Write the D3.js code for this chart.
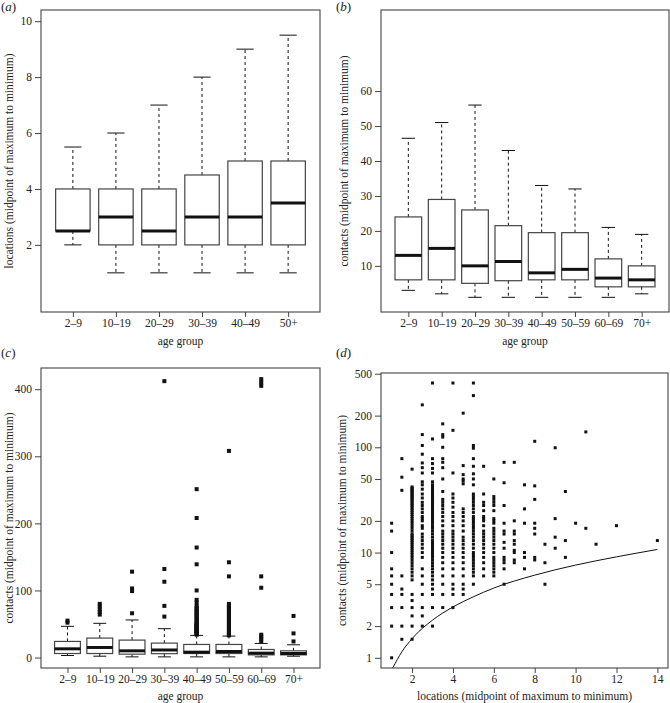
<!DOCTYPE html>
<html><head><meta charset="utf-8">
<script src="https://cdn.jsdelivr.net/npm/d3@7"></script>
<style>
body{margin:0;background:#fff;}
svg{display:block;}
svg text{font-family:"Liberation Serif","Times New Roman","DejaVu Serif",serif;}
</style></head><body>
<svg id="c" width="670" height="703"></svg>
<script>
// ---------- data ----------
const groupsA = ["2–9","10–19","20–29","30–39","40–49","50+"];
const locLow  = [2, 1, 1, 1, 1, 1];
const locQ1   = [2.5, 2, 2, 2, 2, 2];
const locMed  = [2.5, 3, 2.5, 3, 3, 3.5];
const locQ3   = [4, 4, 4, 4.5, 5, 5];
const locHigh = [5.5, 6, 7, 8, 9, 9.5];
const ticksA  = [2, 4, 6, 8, 10];

const groupsB = ["2–9","10–19","20–29","30–39","40–49","50–59","60–69","70+"];
const conLow  = [3, 2, 1, 1, 1, 1, 1, 2];
const conQ1   = [6, 6, 5, 5.75, 6, 6, 4, 4];
const conMed  = [13, 15, 10, 11.25, 8, 9, 6.5, 6];
const conQ3   = [24, 29, 26, 21.5, 19.5, 19.5, 12, 10];
const conHigh = [46.5, 51, 56, 43, 33, 32, 21, 19];
const ticksB  = [10, 20, 30, 40, 50, 60];

const conOutliers = [
  [52, 55],
  [64, 68, 72, 76, 80],
  [66, 99, 103, 128],
  [61, 77, 113, 132, 412],
  [34,35,36,37,38,39,40,41,42,43,44,45,46,47,48,49,50,52,54,56,58,60,62,64,66,68,70,72,74,77,82,86,100,139,164,208,251],
  [33,34,35,36,38,40,42,44,46,48,50,52,54,56,58,60,62,64,66,68,70,72,74,76,78,80,121,142,308],
  [24, 28, 31, 34, 104, 121, 405, 410, 415],
  [24, 36, 62]
];
const ticksC = [0, 100, 200, 300, 400];

const locX = [1, 1.5, 2, 2.5, 3, 3.5, 4, 4.5, 5, 5.5, 6, 6.5, 7, 7.5, 8, 8.5, 9, 9.5, 10, 10.5, 11, 12, 14];
const contactsAtLoc = [
  [1,2,3,4,5,6,7,10,16,19],
  [1.5,2,3,4,4.5,6,39,52,78],
  [1.5,2,2.5,3,3.5,4,5.5,6,6.5,7,7.5,8,8.5,9,9.5,10,10.5,11,11.5,12,12.5,13,13.5,14,14.5,15,16,17,18,19,20,21,22,23,24,25,26,27,28,29,30,31,32,33,34,35,36,37,38,39,40,41,42,62],
  [2,2.5,3,4,5,6,7,9,10,11,12,13,14,15,17,18,20,21,22,24,26,28,30,33,36,40,44,47,57,64,71,86,104,132,253],
  [2,3,4,4.5,5,5.5,6,6.5,7,7.5,8,8.5,9,9.5,10,10.5,11,11.5,12,12.5,13,14,15,16,17,18,19,20,21,22,23,24,25,26,27,28,29,30,31,32,33,34,35,36,38,40,42,44,47,57,63,70,78,120,408],
  [3,4,5,6,7,8,9,10,11,12,13,14,15,16,18,20,22,24,26,28,30,32,38,50,64,72,78,100,125,132,167],
  [3,4,4.5,5,6,7,8,9,10,11,12,13,14,15,16,18,20,22,24,27,30,33,36,57,145,408],
  [4,4.5,5,6,7,8,9,10,11,12,13,14,16,18,20,22,24,26,45,48,50,55,67,211],
  [5,6,6.5,7,7.5,8,8.5,9,9.5,10,11,12,13,14,15,16,17,18,19,20,21,22,24,26,28,30,32,34,36,44,50,56,66,78,98,104,310,408],
  [6,7,8,9,10,11,12,13,14,15,16,18,20,21,22,25,28,30,36,66],
  [6,6.5,7,7.5,8,8.5,9,10,11,12,13,14,15,16,17,19,20,21,25,28,30,32,34,50],
  [5,7,8,8.5,9,11,12.5,15,16,19,28,46,72],
  [8,8.5,10,10.5,12,13,15,16,20,72],
  [7,9,10,19,26,44],
  [8.5,9,15,17,19,32,43,114],
  [5,8,12],
  [11,14,21,99],
  [9,13,38],
  [19],
  [17,140],
  [12],
  [18],
  [13]
];
const curveX = [1.05, 1.5, 2, 3, 4, 5, 6, 8, 10, 12, 14];
const curveY = [0.8, 1.14, 1.52, 2.28, 3.04, 3.8, 4.6, 6.1, 7.6, 9.1, 10.7];
const ticksDx = [2, 4, 6, 8, 10, 12, 14];
const ticksDy = [1, 2, 5, 10, 20, 50, 100, 200, 500];

// ---------- drawing ----------
const svg = d3.select("#c");
const TXT = "#222", LINE = "#444";
const FONT = '"Liberation Serif","Times New Roman","DejaVu Serif",serif';
const yTitle = "contacts (midpoint of maximum to minimum)";

function frame(x0, x1, y0, y1){
  svg.append("rect").attr("x", x0).attr("y", y0).attr("width", x1 - x0).attr("height", y1 - y0)
    .attr("fill", "none").attr("stroke", LINE).attr("stroke-width", 1.1);
}
function styleAxis(g){
  g.attr("font-family", FONT).attr("font-size", 11.5);
  g.select(".domain").remove();
  g.selectAll(".tick line").attr("stroke", LINE).attr("stroke-width", 1);
  g.selectAll(".tick text").attr("fill", TXT).attr("font-family", FONT).attr("font-size", 11.5);
}
function panelLabel(x, y, letter){
  const t = svg.append("text").attr("x", x).attr("y", y).attr("fill", TXT)
    .attr("font-family", FONT).attr("font-size", 13);
  t.append("tspan").text("(");
  t.append("tspan").attr("font-style", "italic").text(letter);
  t.append("tspan").text(")");
}
function title(x, y, txt, rotate){
  const t = svg.append("text").attr("fill", TXT).attr("font-family", FONT).attr("font-size", 11.5)
    .attr("text-anchor", "middle").text(txt);
  if (rotate) t.attr("transform", `translate(${x},${y}) rotate(-90)`);
  else t.attr("x", x).attr("y", y);
}

function boxPanel(o){
  const n = o.cats.length;
  const x = d3.scaleLinear().domain([0.5 - n * 0.04, n + 0.5 + n * 0.04]).range([o.x0, o.x1]);
  const y = d3.scaleLinear().domain(o.ydom).range([o.y1, o.y0]);
  const gx = svg.append("g").attr("transform", `translate(0,${o.y1})`)
    .call(d3.axisBottom(x).tickValues(d3.range(1, n + 1)).tickFormat(i => o.cats[i - 1]).tickSize(5).tickPadding(2));
  styleAxis(gx);
  const gy = svg.append("g").attr("transform", `translate(${o.x0},0)`)
    .call(d3.axisLeft(y).tickValues(o.ticks).tickSize(6).tickPadding(3));
  styleAxis(gy);
  const bw = x(1.4) - x(0.6);
  const g = svg.append("g");
  o.cats.forEach((c, i) => {
    const cx = x(i + 1);
    g.append("line").attr("x1", cx).attr("x2", cx).attr("y1", y(o.q3[i])).attr("y2", y(o.hi[i]))
      .attr("stroke", "#111").attr("stroke-width", 1).attr("stroke-dasharray", "3,3");
    g.append("line").attr("x1", cx).attr("x2", cx).attr("y1", y(o.q1[i])).attr("y2", y(o.lo[i]))
      .attr("stroke", "#111").attr("stroke-width", 1).attr("stroke-dasharray", "3,3");
    [o.hi[i], o.lo[i]].forEach(v => {
      g.append("line").attr("x1", cx - bw / 4).attr("x2", cx + bw / 4).attr("y1", y(v)).attr("y2", y(v))
        .attr("stroke", "#111").attr("stroke-width", 1);
    });
    g.append("rect").attr("x", cx - bw / 2).attr("width", bw)
      .attr("y", y(o.q3[i])).attr("height", y(o.q1[i]) - y(o.q3[i]))
      .attr("fill", "#fff").attr("stroke", LINE).attr("stroke-width", 1.2);
    g.append("line").attr("x1", cx - bw / 2).attr("x2", cx + bw / 2).attr("y1", y(o.med[i])).attr("y2", y(o.med[i]))
      .attr("stroke", "#111").attr("stroke-width", 3);
    if (o.out) {
      g.selectAll(null).data(o.out[i]).enter().append("rect")
        .attr("x", cx - 2).attr("y", d => y(d) - 2).attr("width", 4).attr("height", 4).attr("fill", "#111");
    }
  });
  frame(o.x0, o.x1, o.y0, o.y1);
  title((o.x0 + o.x1) / 2, o.y1 + o.tdy, "age group", false);
  title(o.ytx, (o.y0 + o.y1) / 2, o.ytitle, true);
}

// (a)
boxPanel({cats: groupsA, lo: locLow, q1: locQ1, med: locMed, q3: locQ3, hi: locHigh,
  x0: 41, x1: 320, y0: 10, y1: 312, ydom: [-0.4, 10.4], ticks: ticksA, tdy: 33,
  ytx: 13, ytitle: "locations (midpoint of maximum to minimum)"});
panelLabel(1, 11, "a");

// (b)
boxPanel({cats: groupsB, lo: conLow, q1: conQ1, med: conMed, q3: conQ3, hi: conHigh,
  x0: 381, x1: 669, y0: 10, y1: 312, ydom: [-3.2, 83.2], ticks: ticksB, tdy: 33,
  ytx: 348, ytitle: yTitle});
panelLabel(336, 11, "b");

// (c)
boxPanel({cats: groupsB, lo: conLow, q1: conQ1, med: conMed, q3: conQ3, hi: conHigh, out: conOutliers,
  x0: 41, x1: 320, y0: 368, y1: 668, ydom: [-15.6, 431.6], ticks: ticksC, tdy: 32,
  ytx: 13, ytitle: yTitle});
panelLabel(1, 357, "c");

// (d)
(function(){
  const x0 = 381, x1 = 668, y0 = 373, y1 = 668;
  const x = d3.scaleLinear().domain([0.48, 14.52]).range([x0, x1]);
  const y = d3.scaleLog().domain([0.8, 508]).range([y1, y0]);
  const gx = svg.append("g").attr("transform", `translate(0,${y1})`)
    .call(d3.axisBottom(x).tickValues(ticksDx).tickFormat(d3.format("d")).tickSize(5).tickPadding(2));
  styleAxis(gx);
  const gy = svg.append("g").attr("transform", `translate(${x0},0)`)
    .call(d3.axisLeft(y).tickValues(ticksDy).tickFormat(d3.format("d")).tickSize(6).tickPadding(3));
  styleAxis(gy);
  svg.append("clipPath").attr("id", "clipd").append("rect")
    .attr("x", x0).attr("y", y0).attr("width", x1 - x0).attr("height", y1 - y0);
  const pts = [];
  locX.forEach((lx, i) => contactsAtLoc[i].forEach(v => pts.push([lx, v])));
  svg.append("g").selectAll("rect").data(pts).enter().append("rect")
    .attr("x", d => x(d[0]) - 1.5).attr("y", d => y(d[1]) - 1.5)
    .attr("width", 3).attr("height", 3).attr("fill", "#111");
  const line = d3.line().x(d => x(d[0])).y(d => y(d[1])).curve(d3.curveMonotoneX);
  svg.append("path").datum(curveX.map((cx, i) => [cx, curveY[i]]))
    .attr("d", line).attr("fill", "none").attr("stroke", "#111").attr("stroke-width", 1)
    .attr("clip-path", "url(#clipd)");
  frame(x0, x1, y0, y1);
  title((x0 + x1) / 2, y1 + 32, "locations (midpoint of maximum to minimum)", false);
  title(346, (y0 + y1) / 2, yTitle, true);
  panelLabel(336, 357, "d");
})();
</script>
</body></html>
